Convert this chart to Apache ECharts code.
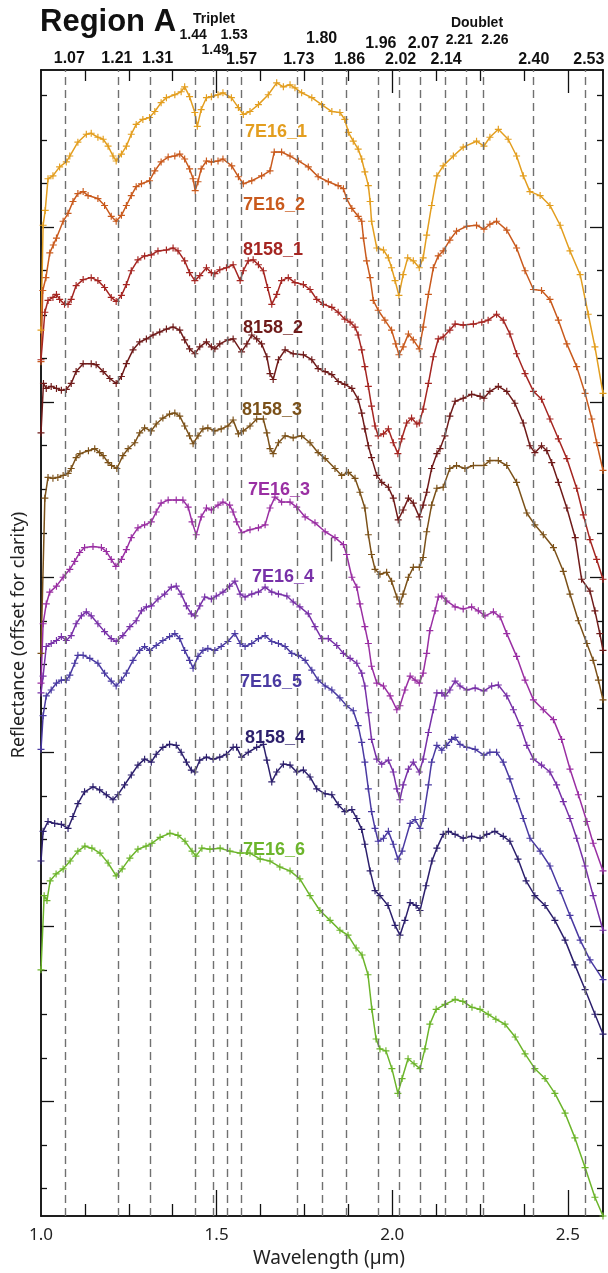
<!DOCTYPE html>
<html>
<head>
<meta charset="utf-8">
<script src="https://cdn.jsdelivr.net/npm/echarts@6.0.0/dist/echarts.min.js"></script>
<style>
  html, body { margin: 0; padding: 0; background: #fff; }
  #chart { width: 608px; height: 1273px; }
</style>
</head>
<body>
<div id="chart"></div>
<script>
// spectra: [wavelength (um), reflectance + offset]
const s7E16_1 = [[1.000,0.896],[1.006,1.002],[1.012,1.017],[1.020,1.049],[1.034,1.052],[1.053,1.061],[1.072,1.066],[1.082,1.072],[1.105,1.086],[1.129,1.094],[1.143,1.095],[1.162,1.091],[1.177,1.089],[1.191,1.082],[1.205,1.072],[1.214,1.067],[1.229,1.074],[1.243,1.082],[1.257,1.094],[1.271,1.104],[1.290,1.109],[1.309,1.111],[1.324,1.117],[1.342,1.126],[1.357,1.131],[1.381,1.134],[1.399,1.137],[1.409,1.142],[1.423,1.132],[1.438,1.116],[1.445,1.102],[1.456,1.119],[1.471,1.131],[1.485,1.132],[1.504,1.134],[1.518,1.136],[1.542,1.131],[1.562,1.121],[1.576,1.114],[1.595,1.117],[1.619,1.124],[1.647,1.134],[1.671,1.146],[1.690,1.142],[1.709,1.144],[1.723,1.141],[1.742,1.136],[1.771,1.131],[1.799,1.124],[1.828,1.117],[1.851,1.116],[1.865,1.109],[1.875,1.096],[1.889,1.087],[1.903,1.079],[1.913,1.069],[1.922,1.056],[1.932,1.042],[1.937,1.026],[1.941,1.006],[1.956,0.979],[1.975,0.977],[1.989,0.969],[1.998,0.959],[2.008,0.946],[2.019,0.931],[2.031,0.952],[2.044,0.969],[2.060,0.966],[2.077,0.959],[2.088,0.969],[2.098,0.992],[2.112,1.022],[2.127,1.052],[2.145,1.062],[2.174,1.072],[2.202,1.081],[2.240,1.087],[2.261,1.082],[2.278,1.091],[2.302,1.099],[2.330,1.089],[2.354,1.072],[2.373,1.052],[2.392,1.036],[2.421,1.032],[2.449,1.022],[2.478,1.002],[2.506,0.976],[2.535,0.952],[2.558,0.912],[2.577,0.879],[2.600,0.832]];
const s7E16_2 = [[1.000,0.864],[1.005,0.936],[1.014,0.949],[1.025,0.974],[1.035,0.982],[1.044,0.989],[1.063,1.006],[1.077,1.014],[1.091,1.026],[1.105,1.034],[1.120,1.036],[1.134,1.032],[1.162,1.029],[1.181,1.022],[1.200,1.011],[1.214,1.006],[1.229,1.012],[1.243,1.022],[1.257,1.032],[1.271,1.041],[1.286,1.044],[1.309,1.047],[1.324,1.057],[1.342,1.066],[1.362,1.071],[1.381,1.072],[1.395,1.074],[1.409,1.069],[1.423,1.059],[1.433,1.049],[1.439,1.037],[1.447,1.046],[1.456,1.059],[1.471,1.067],[1.485,1.066],[1.504,1.067],[1.518,1.069],[1.543,1.062],[1.562,1.051],[1.576,1.044],[1.600,1.047],[1.628,1.052],[1.652,1.057],[1.664,1.076],[1.685,1.076],[1.709,1.072],[1.733,1.067],[1.761,1.061],[1.789,1.051],[1.818,1.046],[1.846,1.042],[1.861,1.039],[1.870,1.029],[1.885,1.019],[1.903,1.011],[1.913,1.006],[1.918,0.989],[1.927,0.966],[1.937,0.949],[1.946,0.926],[1.960,0.916],[1.979,0.906],[1.998,0.896],[2.010,0.882],[2.019,0.871],[2.031,0.879],[2.046,0.892],[2.060,0.886],[2.077,0.877],[2.088,0.899],[2.103,0.932],[2.117,0.959],[2.131,0.971],[2.145,0.976],[2.164,0.987],[2.183,0.996],[2.212,1.001],[2.240,1.002],[2.261,0.998],[2.278,1.003],[2.297,1.006],[2.326,0.997],[2.354,0.979],[2.378,0.956],[2.402,0.937],[2.425,0.936],[2.449,0.927],[2.473,0.906],[2.497,0.882],[2.525,0.859],[2.549,0.832],[2.568,0.806],[2.582,0.782],[2.600,0.754]];
const s8158_1 = [[1.000,0.866],[1.011,0.914],[1.020,0.926],[1.034,0.929],[1.044,0.932],[1.053,0.927],[1.067,0.922],[1.077,0.922],[1.086,0.927],[1.100,0.941],[1.120,0.947],[1.143,0.949],[1.162,0.946],[1.181,0.939],[1.200,0.929],[1.214,0.925],[1.229,0.931],[1.243,0.942],[1.257,0.956],[1.276,0.967],[1.295,0.971],[1.314,0.972],[1.333,0.976],[1.357,0.977],[1.376,0.979],[1.390,0.976],[1.409,0.966],[1.423,0.954],[1.438,0.946],[1.452,0.951],[1.471,0.959],[1.485,0.954],[1.495,0.953],[1.509,0.957],[1.528,0.959],[1.547,0.962],[1.567,0.946],[1.576,0.956],[1.590,0.966],[1.604,0.967],[1.619,0.962],[1.633,0.956],[1.645,0.939],[1.657,0.922],[1.671,0.932],[1.685,0.946],[1.704,0.949],[1.723,0.944],[1.747,0.942],[1.766,0.937],[1.785,0.927],[1.804,0.922],[1.828,0.919],[1.846,0.914],[1.865,0.907],[1.880,0.904],[1.894,0.899],[1.903,0.891],[1.913,0.876],[1.922,0.859],[1.932,0.839],[1.941,0.819],[1.951,0.799],[1.960,0.789],[1.975,0.791],[1.989,0.796],[2.003,0.782],[2.016,0.771],[2.027,0.786],[2.041,0.802],[2.055,0.807],[2.070,0.801],[2.077,0.802],[2.088,0.816],[2.103,0.842],[2.117,0.869],[2.131,0.887],[2.145,0.889],[2.164,0.896],[2.179,0.902],[2.202,0.901],[2.231,0.902],[2.255,0.904],[2.273,0.906],[2.297,0.912],[2.316,0.906],[2.335,0.892],[2.354,0.872],[2.378,0.852],[2.402,0.834],[2.425,0.826],[2.449,0.806],[2.473,0.786],[2.497,0.766],[2.525,0.736],[2.544,0.709],[2.563,0.684],[2.582,0.664],[2.600,0.644]];
const s8158_2 = [[1.000,0.792],[1.007,0.842],[1.015,0.837],[1.029,0.839],[1.044,0.837],[1.058,0.835],[1.072,0.836],[1.086,0.842],[1.100,0.854],[1.120,0.862],[1.143,0.862],[1.157,0.861],[1.177,0.854],[1.196,0.847],[1.214,0.842],[1.229,0.849],[1.243,0.862],[1.262,0.876],[1.281,0.884],[1.300,0.887],[1.319,0.891],[1.338,0.894],[1.357,0.897],[1.376,0.899],[1.395,0.896],[1.409,0.886],[1.423,0.877],[1.438,0.872],[1.452,0.879],[1.471,0.884],[1.485,0.879],[1.495,0.877],[1.509,0.882],[1.532,0.886],[1.547,0.887],[1.571,0.874],[1.586,0.882],[1.600,0.891],[1.614,0.887],[1.628,0.882],[1.643,0.869],[1.652,0.852],[1.661,0.846],[1.676,0.866],[1.695,0.876],[1.718,0.872],[1.747,0.871],[1.771,0.866],[1.789,0.857],[1.809,0.854],[1.828,0.851],[1.846,0.844],[1.865,0.841],[1.885,0.837],[1.903,0.826],[1.913,0.812],[1.922,0.796],[1.932,0.779],[1.941,0.767],[1.956,0.749],[1.970,0.742],[1.989,0.737],[2.003,0.726],[2.017,0.704],[2.031,0.714],[2.046,0.726],[2.060,0.721],[2.077,0.707],[2.088,0.719],[2.098,0.732],[2.112,0.756],[2.127,0.771],[2.136,0.776],[2.150,0.789],[2.164,0.809],[2.179,0.824],[2.202,0.827],[2.226,0.831],[2.250,0.829],[2.261,0.827],[2.278,0.834],[2.302,0.839],[2.326,0.834],[2.349,0.822],[2.373,0.802],[2.392,0.779],[2.406,0.772],[2.425,0.779],[2.440,0.774],[2.454,0.762],[2.473,0.742],[2.497,0.716],[2.521,0.686],[2.539,0.644],[2.563,0.632],[2.577,0.612],[2.591,0.589],[2.600,0.572]];
const s8158_3 = [[1.000,0.569],[1.011,0.726],[1.020,0.747],[1.034,0.746],[1.048,0.747],[1.063,0.749],[1.077,0.751],[1.086,0.756],[1.100,0.767],[1.111,0.771],[1.135,0.774],[1.153,0.776],[1.167,0.772],[1.177,0.769],[1.191,0.762],[1.201,0.759],[1.216,0.756],[1.233,0.769],[1.248,0.776],[1.267,0.782],[1.281,0.792],[1.295,0.797],[1.314,0.794],[1.328,0.801],[1.347,0.807],[1.366,0.811],[1.381,0.812],[1.395,0.809],[1.409,0.799],[1.423,0.789],[1.433,0.781],[1.447,0.789],[1.461,0.796],[1.475,0.797],[1.495,0.794],[1.513,0.796],[1.532,0.799],[1.547,0.805],[1.562,0.791],[1.576,0.794],[1.595,0.799],[1.614,0.806],[1.633,0.806],[1.643,0.792],[1.652,0.776],[1.661,0.771],[1.676,0.782],[1.695,0.789],[1.718,0.787],[1.742,0.789],[1.766,0.782],[1.789,0.772],[1.809,0.766],[1.837,0.756],[1.856,0.749],[1.875,0.752],[1.894,0.746],[1.908,0.732],[1.922,0.716],[1.932,0.689],[1.941,0.669],[1.951,0.654],[1.965,0.649],[1.984,0.651],[1.998,0.642],[2.013,0.626],[2.022,0.619],[2.031,0.629],[2.046,0.646],[2.060,0.656],[2.077,0.656],[2.088,0.666],[2.098,0.692],[2.112,0.719],[2.127,0.736],[2.145,0.737],[2.164,0.756],[2.183,0.759],[2.207,0.756],[2.231,0.759],[2.261,0.759],[2.278,0.764],[2.302,0.764],[2.326,0.759],[2.354,0.742],[2.383,0.711],[2.406,0.699],[2.430,0.689],[2.459,0.676],[2.487,0.652],[2.506,0.629],[2.530,0.602],[2.554,0.579],[2.572,0.562],[2.587,0.542],[2.600,0.522]];
const s7E16_3 = [[1.000,0.539],[1.006,0.599],[1.015,0.619],[1.025,0.631],[1.044,0.637],[1.063,0.646],[1.082,0.654],[1.096,0.662],[1.110,0.671],[1.124,0.676],[1.148,0.677],[1.172,0.676],[1.186,0.672],[1.200,0.664],[1.213,0.657],[1.229,0.664],[1.243,0.674],[1.257,0.686],[1.276,0.696],[1.295,0.699],[1.314,0.702],[1.328,0.712],[1.342,0.721],[1.362,0.724],[1.385,0.724],[1.404,0.724],[1.419,0.717],[1.430,0.702],[1.442,0.689],[1.456,0.707],[1.471,0.716],[1.485,0.714],[1.504,0.719],[1.518,0.722],[1.537,0.719],[1.547,0.712],[1.557,0.702],[1.571,0.691],[1.595,0.694],[1.619,0.696],[1.638,0.699],[1.652,0.716],[1.666,0.727],[1.685,0.722],[1.709,0.722],[1.728,0.717],[1.752,0.707],[1.780,0.701],[1.809,0.692],[1.837,0.686],[1.861,0.679],[1.870,0.669],[1.885,0.646],[1.899,0.636],[1.908,0.619],[1.922,0.596],[1.932,0.579],[1.941,0.556],[1.956,0.539],[1.975,0.536],[1.994,0.526],[2.013,0.512],[2.022,0.516],[2.036,0.532],[2.051,0.546],[2.065,0.542],[2.077,0.539],[2.088,0.549],[2.098,0.569],[2.107,0.592],[2.122,0.612],[2.131,0.626],[2.141,0.627],[2.155,0.622],[2.179,0.616],[2.202,0.614],[2.226,0.616],[2.245,0.612],[2.264,0.607],[2.288,0.611],[2.307,0.606],[2.326,0.589],[2.354,0.566],[2.378,0.542],[2.402,0.522],[2.430,0.512],[2.459,0.502],[2.482,0.482],[2.506,0.452],[2.530,0.426],[2.554,0.399],[2.572,0.377],[2.600,0.349]];
const s7E16_4 = [[1.000,0.529],[1.006,0.546],[1.015,0.576],[1.029,0.579],[1.044,0.582],[1.058,0.586],[1.072,0.582],[1.086,0.587],[1.100,0.599],[1.115,0.607],[1.129,0.611],[1.143,0.607],[1.162,0.599],[1.181,0.591],[1.200,0.584],[1.214,0.581],[1.233,0.587],[1.253,0.596],[1.271,0.602],[1.286,0.612],[1.300,0.616],[1.314,0.617],[1.333,0.624],[1.352,0.629],[1.371,0.636],[1.385,0.637],[1.399,0.629],[1.414,0.617],[1.428,0.609],[1.438,0.607],[1.452,0.617],[1.466,0.626],[1.485,0.624],[1.499,0.627],[1.518,0.631],[1.537,0.637],[1.552,0.642],[1.567,0.629],[1.581,0.626],[1.600,0.629],[1.619,0.631],[1.638,0.636],[1.657,0.631],[1.676,0.629],[1.700,0.627],[1.718,0.621],[1.737,0.616],[1.761,0.609],[1.780,0.596],[1.799,0.584],[1.818,0.584],[1.842,0.577],[1.861,0.569],[1.880,0.564],[1.899,0.559],[1.913,0.549],[1.922,0.536],[1.932,0.509],[1.941,0.482],[1.956,0.462],[1.970,0.457],[1.989,0.461],[2.003,0.449],[2.013,0.432],[2.022,0.421],[2.031,0.436],[2.046,0.452],[2.060,0.459],[2.077,0.449],[2.088,0.462],[2.103,0.489],[2.117,0.512],[2.127,0.529],[2.141,0.529],[2.150,0.526],[2.164,0.532],[2.179,0.541],[2.193,0.536],[2.212,0.532],[2.236,0.534],[2.261,0.531],[2.283,0.536],[2.302,0.537],[2.326,0.526],[2.345,0.512],[2.364,0.496],[2.383,0.476],[2.402,0.462],[2.425,0.456],[2.449,0.449],[2.468,0.436],[2.487,0.419],[2.506,0.402],[2.525,0.382],[2.549,0.354],[2.572,0.324],[2.600,0.289]];
const s7E16_5 = [[1.000,0.472],[1.006,0.506],[1.015,0.526],[1.029,0.532],[1.044,0.539],[1.058,0.542],[1.072,0.542],[1.082,0.547],[1.096,0.559],[1.105,0.567],[1.120,0.567],[1.139,0.564],[1.162,0.559],[1.181,0.549],[1.200,0.541],[1.214,0.536],[1.229,0.542],[1.243,0.549],[1.262,0.562],[1.281,0.572],[1.295,0.576],[1.309,0.572],[1.328,0.577],[1.347,0.582],[1.366,0.586],[1.381,0.589],[1.395,0.584],[1.409,0.572],[1.423,0.562],[1.433,0.554],[1.447,0.566],[1.461,0.572],[1.475,0.574],[1.495,0.572],[1.513,0.576],[1.532,0.581],[1.552,0.589],[1.567,0.579],[1.581,0.576],[1.600,0.579],[1.619,0.584],[1.638,0.587],[1.657,0.581],[1.676,0.579],[1.695,0.576],[1.714,0.569],[1.733,0.567],[1.752,0.562],[1.771,0.552],[1.789,0.542],[1.809,0.536],[1.828,0.532],[1.851,0.524],[1.870,0.516],[1.889,0.511],[1.903,0.496],[1.913,0.479],[1.922,0.459],[1.932,0.432],[1.941,0.409],[1.951,0.392],[1.960,0.379],[1.975,0.382],[1.989,0.389],[2.003,0.376],[2.016,0.361],[2.028,0.369],[2.051,0.397],[2.065,0.401],[2.079,0.392],[2.088,0.402],[2.103,0.436],[2.112,0.459],[2.127,0.476],[2.141,0.471],[2.155,0.476],[2.169,0.482],[2.179,0.484],[2.193,0.477],[2.212,0.474],[2.236,0.472],[2.261,0.466],[2.278,0.469],[2.297,0.469],[2.316,0.459],[2.335,0.442],[2.354,0.422],[2.373,0.402],[2.392,0.382],[2.421,0.369],[2.449,0.354],[2.478,0.329],[2.506,0.304],[2.535,0.279],[2.563,0.259],[2.600,0.239]];
const s8158_4 = [[1.000,0.359],[1.006,0.389],[1.020,0.399],[1.039,0.397],[1.058,0.396],[1.077,0.392],[1.091,0.404],[1.105,0.417],[1.124,0.429],[1.148,0.434],[1.167,0.431],[1.186,0.426],[1.205,0.421],[1.219,0.426],[1.238,0.436],[1.257,0.446],[1.276,0.456],[1.295,0.462],[1.314,0.459],[1.328,0.467],[1.347,0.474],[1.366,0.477],[1.385,0.476],[1.399,0.469],[1.414,0.459],[1.428,0.451],[1.438,0.449],[1.452,0.461],[1.471,0.464],[1.490,0.462],[1.509,0.464],[1.528,0.467],[1.547,0.474],[1.557,0.474],[1.571,0.464],[1.590,0.469],[1.614,0.474],[1.633,0.477],[1.643,0.461],[1.657,0.439],[1.671,0.449],[1.690,0.457],[1.709,0.456],[1.728,0.449],[1.747,0.451],[1.766,0.444],[1.785,0.432],[1.809,0.427],[1.828,0.426],[1.846,0.416],[1.865,0.409],[1.885,0.411],[1.899,0.402],[1.913,0.391],[1.922,0.376],[1.937,0.349],[1.951,0.329],[1.965,0.324],[1.988,0.314],[2.008,0.294],[2.022,0.284],[2.036,0.299],[2.051,0.317],[2.068,0.314],[2.079,0.309],[2.096,0.334],[2.113,0.359],[2.127,0.372],[2.145,0.386],[2.160,0.389],[2.179,0.386],[2.202,0.382],[2.226,0.384],[2.250,0.382],[2.269,0.386],[2.292,0.389],[2.316,0.384],[2.335,0.379],[2.358,0.361],[2.381,0.339],[2.406,0.324],[2.435,0.314],[2.463,0.299],[2.492,0.279],[2.520,0.254],[2.549,0.229],[2.577,0.204],[2.600,0.184]];
const s7E16_6 = [[1.000,0.249],[1.009,0.324],[1.017,0.319],[1.026,0.339],[1.043,0.346],[1.063,0.351],[1.083,0.359],[1.105,0.369],[1.125,0.374],[1.145,0.372],[1.168,0.367],[1.191,0.357],[1.214,0.344],[1.231,0.351],[1.253,0.362],[1.276,0.371],[1.299,0.374],[1.316,0.377],[1.339,0.383],[1.367,0.387],[1.390,0.385],[1.410,0.379],[1.430,0.369],[1.441,0.364],[1.458,0.372],[1.481,0.371],[1.510,0.372],[1.538,0.369],[1.567,0.367],[1.595,0.367],[1.624,0.361],[1.652,0.359],[1.680,0.353],[1.709,0.349],[1.737,0.341],[1.766,0.324],[1.794,0.309],[1.823,0.299],[1.851,0.289],[1.874,0.284],[1.897,0.271],[1.914,0.264],[1.931,0.244],[1.942,0.209],[1.954,0.179],[1.965,0.169],[1.982,0.167],[1.999,0.149],[2.016,0.124],[2.028,0.139],[2.045,0.159],[2.062,0.154],[2.079,0.149],[2.093,0.169],[2.107,0.194],[2.125,0.209],[2.150,0.214],[2.179,0.219],[2.201,0.217],[2.227,0.211],[2.250,0.209],[2.273,0.204],[2.295,0.199],[2.321,0.194],[2.350,0.181],[2.378,0.164],[2.406,0.149],[2.435,0.139],[2.463,0.124],[2.492,0.104],[2.520,0.079],[2.549,0.049],[2.577,0.019],[2.600,0.000]];

const seriesNames = ['7E16_1', '7E16_2', '8158_1', '8158_2', '8158_3', '7E16_3', '7E16_4', '7E16_5', '8158_4', '7E16_6'];
const seriesData = [s7E16_1, s7E16_2, s8158_1, s8158_2, s8158_3, s7E16_3, s7E16_4, s7E16_5, s8158_4, s7E16_6];
const seriesColors = ['#E39E1F', '#C95A1D', '#A52622', '#6F1B1A', '#7B5119', '#9A2FA3', '#7831A8', '#4A3AA2', '#2C1F6C', '#6CB52B'];

// absorption band positions (dashed lines) and their labels
const bandLines = [1.075, 1.216, 1.312, 1.439, 1.493, 1.530, 1.571, 1.731, 1.799, 1.867, 1.962, 2.024, 2.077, 2.145, 2.205, 2.261, 2.400, 2.554];
const bandLabels = ['1.07', '1.21', '1.31', '1.44', '1.49', '1.53', '1.57', '1.73', '1.80', '1.86', '1.96', '2.02', '2.07', '2.14', '2.21', '2.26', '2.40', '2.53'];
// short stray segment near 1.83 um
const straySegment = [[1.826, 0.686], [1.826, 0.662]];

// axis ticks
const xMajorTicks = [1.5, 2.0, 2.5];
const xMinorTicks = [1.125, 1.25, 1.375, 1.625, 1.75, 1.875, 2.125, 2.25, 2.375];
const xTickLabels = [1.0, 1.5, 2.0, 2.5];
const yMajorTicks = [0.116, 0.293, 0.469, 0.646, 0.823, 1.000];
const yMinorTicks = [0.028, 0.072, 0.160, 0.204, 0.249, 0.337, 0.381, 0.425, 0.514, 0.558, 0.602, 0.690, 0.735, 0.779, 0.867, 0.911, 0.956, 1.044, 1.088, 1.133];

const chart = echarts.init(document.getElementById('chart'), null, { renderer: 'canvas' });

const plusSymbol = 'path://M-0.5,-3H0.5V-0.5H3V0.5H0.5V3H-0.5V0.5H-3V-0.5H-0.5Z';
const axisCol = '#111';

function xAx(pos, ticks, len, labels) {
  return {
    type: 'value', position: pos, min: 1.0, max: 2.6,
    axisLine: { show: true, onZero: false, lineStyle: { color: axisCol, width: 1.5 } },
    axisTick: { show: true, inside: true, length: len, customValues: ticks, lineStyle: { color: axisCol, width: 1.3 } },
    axisLabel: labels ? {
      show: true, customValues: labels, margin: 11, color: '#222', fontSize: 17,
      fontFamily: 'Noto Sans', formatter: (v) => v.toFixed(1)
    } : { show: false },
    splitLine: { show: false }
  };
}
function yAx(pos, ticks, len) {
  return {
    type: 'value', position: pos, min: 0, max: 1.159,
    axisLine: { show: true, onZero: false, lineStyle: { color: axisCol, width: 1.5 } },
    axisTick: { show: true, inside: true, length: len, customValues: ticks, lineStyle: { color: axisCol, width: 1.3 } },
    axisLabel: { show: false },
    splitLine: { show: false }
  };
}

const xAxes = [
  xAx('bottom', xMinorTicks, 12, xTickLabels),
  xAx('bottom', xMajorTicks, 26, null),
  xAx('top', xMinorTicks, 11, null),
  xAx('top', xMajorTicks, 23, null)
];
xAxes[0].name = 'Wavelength (µm)';
xAxes[0].nameLocation = 'middle';
xAxes[0].nameGap = 33;
xAxes[0].nameTextStyle = { fontSize: 19, color: '#222', fontFamily: 'Noto Sans', padding: [0, 0, 0, 14] };

const yAxes = [
  yAx('left', yMinorTicks, 6),
  yAx('left', yMajorTicks, 13),
  yAx('right', yMinorTicks, 6),
  yAx('right', yMajorTicks, 13)
];
yAxes[0].name = 'Reflectance (offset for clarity)';
yAxes[0].nameLocation = 'middle';
yAxes[0].nameGap = 13;
yAxes[0].nameTextStyle = { fontSize: 18, color: '#222', fontFamily: 'Noto Sans', padding: [0, 0, 0, 16] };

const series = [{
  type: 'line', data: [], silent: true, z: 1,
  markLine: {
    silent: true, symbol: ['none', 'none'], label: { show: false },
    lineStyle: { color: '#707070', type: [8, 5], width: 1.4 },
    data: bandLines.map((v) => ({ xAxis: v })).concat([[
      { coord: straySegment[0], lineStyle: { type: 'solid', color: '#555' } },
      { coord: straySegment[1] }
    ]])
  }
}];
seriesData.forEach((d, i) => {
  series.push({
    name: seriesNames[i], type: 'line', data: d, z: 3,
    showSymbol: true, showAllSymbol: true, symbol: plusSymbol, symbolSize: 7,
    lineStyle: { color: seriesColors[i], width: 1.5 },
    itemStyle: { color: seriesColors[i] },
    emphasis: { disabled: true }
  });
});

// series name labels (pixel layout)
const nameLabelPos = [[245, 132], [243, 205], [243, 250], [243, 328], [242, 410], [248, 490], [252, 577], [240, 682], [245, 738], [243, 850]];
const graphics = seriesNames.map((n, i) => ({
  type: 'text', x: nameLabelPos[i][0], y: nameLabelPos[i][1], z: 10,
  style: { text: n, fill: seriesColors[i], font: 'bold 18px "Liberation Sans", Arial', textAlign: 'left', textVerticalAlign: 'middle' }
}));
graphics.push({
  type: 'text', x: 40, y: 22,
  style: { text: 'Region A', fill: '#111', font: 'bold 31px "Liberation Sans", Arial', textAlign: 'left', textVerticalAlign: 'middle' }
});
graphics.push({
  type: 'text', x: 214, y: 19,
  style: { text: 'Triplet', fill: '#111', font: 'bold 14px "Liberation Sans", Arial', textAlign: 'center', textVerticalAlign: 'middle' }
});
graphics.push({
  type: 'text', x: 477, y: 23,
  style: { text: 'Doublet', fill: '#111', font: 'bold 14px "Liberation Sans", Arial', textAlign: 'center', textVerticalAlign: 'middle' }
});

chart.setOption({
  animation: false,
  backgroundColor: '#fff',
  grid: { left: 41, right: 5, top: 70, bottom: 44, containLabel: false },
  xAxis: xAxes,
  yAxis: yAxes,
  series: series,
  graphic: graphics
});

// band labels above the plot, tied to their dashed lines
const labelShift = [2, 0, 7, -2, 1, 7, 0, 1, 0, 4, 2, 0, 4, 3, -5, 11, 1, 2];
const labelRowY = [59, 59, 59, 35, 50, 35, 60, 60, 39, 60, 44, 60, 44, 60, 40, 40, 60, 60];
const smallLabel = ['1.44', '1.49', '1.53', '2.21', '2.26'];
const bandGraphics = bandLabels.map((t, i) => {
  const px = chart.convertToPixel({ xAxisIndex: 0 }, bandLines[i]) + labelShift[i];
  const small = smallLabel.indexOf(t) >= 0;
  return {
    type: 'text', x: px, y: labelRowY[i],
    style: { text: t, fill: '#111', font: 'bold ' + (small ? 14 : 16) + 'px "Liberation Sans", Arial', textAlign: 'center', textVerticalAlign: 'middle' }
  };
});
chart.setOption({ graphic: graphics.concat(bandGraphics) });
</script>
</body>
</html>
